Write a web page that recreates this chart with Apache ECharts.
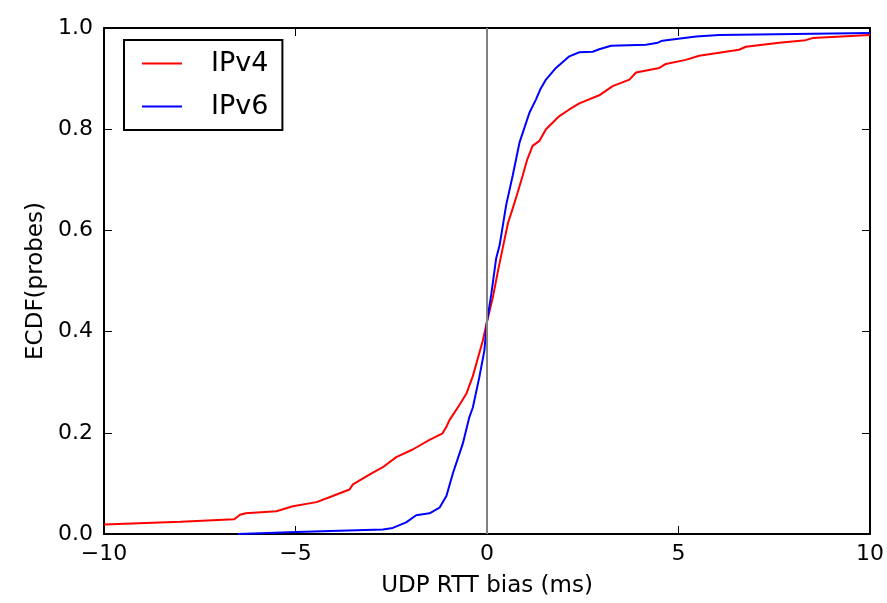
<!DOCTYPE html>
<html><head><meta charset="utf-8">
<script src="https://cdn.jsdelivr.net/npm/echarts@6/dist/echarts.min.js"></script>
<style>html,body{margin:0;padding:0;background:#fff}#c{width:887px;height:603px}</style>
</head><body><div id="c"></div>
<script>
var ipv4X = [-10,-8,-6.6,-6.45,-6.3,-5.5,-5.07,-4.45,-4.03,-3.59,-3.5,-3.06,-2.72,-2.37,-1.94,-1.5,-1.16,-1.06,-0.98,-0.72,-0.54,-0.37,-0.11,0,0.15,0.3,0.41,0.55,0.67,0.8,0.93,1.05,1.19,1.37,1.54,1.89,2.15,2.41,2.93,3.28,3.72,3.89,4.5,4.67,5.19,5.54,6.58,6.76,7.63,8.32,8.5,10];
var ipv4Y = [0.019,0.024,0.029,0.038,0.041,0.045,0.055,0.063,0.075,0.088,0.098,0.118,0.132,0.152,0.167,0.186,0.199,0.212,0.225,0.255,0.277,0.312,0.382,0.42,0.467,0.525,0.565,0.615,0.643,0.675,0.708,0.74,0.767,0.777,0.8,0.826,0.839,0.851,0.867,0.885,0.898,0.912,0.921,0.929,0.937,0.945,0.957,0.963,0.971,0.976,0.98,0.986];
var ipv6X = [-6.5,-4.98,-2.72,-2.46,-2.11,-1.85,-1.5,-1.24,-1.06,-0.89,-0.63,-0.46,-0.37,-0.2,-0.07,0,0.11,0.24,0.33,0.5,0.67,0.85,1.11,1.28,1.4,1.54,1.8,2.15,2.41,2.76,2.93,3.24,4.15,4.46,4.58,5.46,6.06,10];
var ipv6Y = [0,0.004,0.009,0.012,0.023,0.037,0.041,0.052,0.075,0.12,0.179,0.231,0.25,0.31,0.362,0.42,0.473,0.545,0.571,0.65,0.708,0.774,0.833,0.859,0.88,0.898,0.921,0.944,0.952,0.953,0.958,0.965,0.967,0.971,0.975,0.983,0.986,0.99];
var xTicks = [-10,-5,0,5,10];
var yTicks = [0,0.2,0.4,0.6,0.8,1.0];

function zip(a,b){return a.map(function(v,i){return [v,b[i]];});}
var F = 'DejaVu Sans';
var chart = echarts.init(document.getElementById('c'), null, {renderer:'canvas'});
var axisLine = {show:true, onZero:false, lineStyle:{color:'#000', width:2}};
var tick = {show:true, inside:true, length:8, lineStyle:{color:'#000', width:1}};
chart.setOption({
  animation:false,
  backgroundColor:'#fff',
  grid:{left:104, right:16, top:28, bottom:65, containLabel:false},
  legend:{
    orient:'vertical', left:124, top:40,
    data:['IPv4','IPv6'],
    icon:'rect', itemWidth:40, itemHeight:2, itemGap:16,
    padding:[10,14,10,18],
    borderColor:'#000', borderWidth:2,
    textStyle:{fontFamily:F, fontSize:27, color:'#000', padding:[0,0,0,24]}
  },
  xAxis:[
    {type:'value', min:-10, max:10, interval:5, position:'bottom',
     axisLine:axisLine, axisTick:tick, splitLine:{show:false},
     axisLabel:{fontFamily:F, fontSize:22, color:'#000', margin:9,
       formatter:function(v){return v<0?'\u2212'+Math.abs(v):String(v);}},
     name:'UDP RTT bias (ms)', nameLocation:'middle', nameGap:41,
     nameTextStyle:{fontFamily:F, fontSize:23, color:'#000'}},
    {type:'value', min:-10, max:10, interval:5, position:'top',
     axisLine:axisLine, axisTick:tick, splitLine:{show:false}, axisLabel:{show:false}}
  ],
  yAxis:[
    {type:'value', min:0, max:1, interval:0.2, position:'left',
     axisLine:axisLine, axisTick:tick, splitLine:{show:false},
     axisLabel:{fontFamily:F, fontSize:22, color:'#000', margin:11,
       formatter:function(v){return v.toFixed(1);}},
     name:'ECDF(probes)', nameLocation:'middle', nameGap:55, nameRotate:90,
     nameTextStyle:{fontFamily:F, fontSize:23, color:'#000'}},
    {type:'value', min:0, max:1, interval:0.2, position:'right',
     axisLine:axisLine, axisTick:tick, splitLine:{show:false}, axisLabel:{show:false}}
  ],
  series:[
    {name:'IPv4', type:'line', data:zip(ipv4X,ipv4Y), showSymbol:false, symbol:'none',
     lineStyle:{color:'#ff0000', width:2}, itemStyle:{color:'#ff0000'},
     markLine:{silent:true, symbol:'none', label:{show:false},
       lineStyle:{color:'#808080', width:2, type:'solid'}, data:[{xAxis:0}]}},
    {name:'IPv6', type:'line', data:zip(ipv6X,ipv6Y), showSymbol:false, symbol:'none',
     lineStyle:{color:'#0000ff', width:2}, itemStyle:{color:'#0000ff'}}
  ]
});
</script></body></html>
